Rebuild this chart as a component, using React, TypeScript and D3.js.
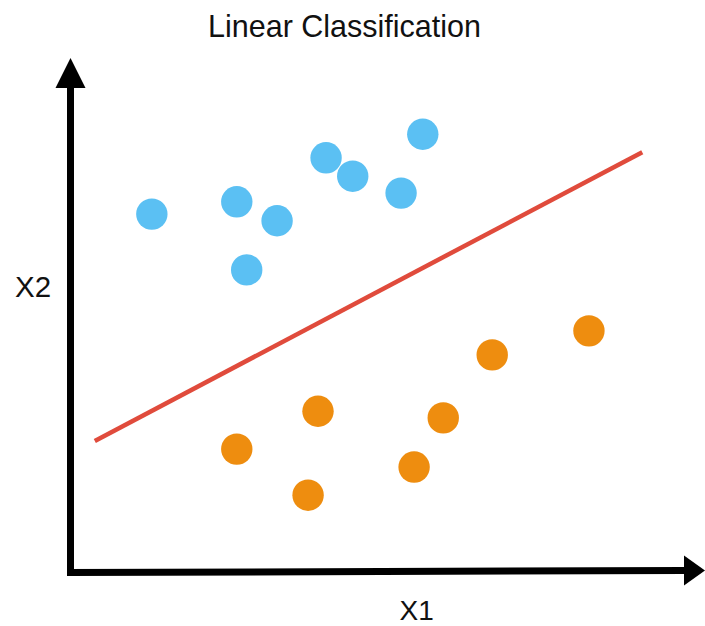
import React from "react";
import * as d3 from "d3";

const W = 705;
const H = 626;

const title = "Linear Classification";
const xLabel = "X1";
const yLabel = "X2";

const classAX = [1.32, 2.69, 3.34, 2.85, 4.13, 4.56, 5.34, 5.69];
const classAY = [6.99, 7.23, 6.86, 5.9, 8.09, 7.73, 7.4, 8.55];
const classBX = [2.69, 4.0, 3.84, 5.55, 6.02, 6.81, 8.37];
const classBY = [2.4, 3.14, 1.5, 2.05, 3.01, 4.24, 4.71];
const boundaryX = [0.4, 9.23];
const boundaryY = [2.56, 8.2];

const FONT = "'Liberation Sans', Arial, Helvetica, sans-serif";

export default function App() {
  const x = d3.scaleLinear().domain([0, 10]).range([70, 690]);
  const y = d3.scaleLinear().domain([0, 10]).range([572, 60]);

  const line = d3
    .line<number>()
    .x((d) => x(boundaryX[d]))
    .y((d) => y(boundaryY[d]));

  const ax0 = x(0) + 0.5;
  const ay0 = y(0) + 0.5;

  return (
    <svg
      width={W}
      height={H}
      style={{ position: "absolute", left: 0, top: 0, display: "block", background: "#fff" }}
    >
      <text x={344.5} y={37} textAnchor="middle" fontFamily={FONT} fontSize={30.5} fill="#111">
        {title}
      </text>
      <text x={15} y={297} fontFamily={FONT} fontSize={29.5} fill="#111">
        {yLabel}
      </text>
      <text x={399.5} y={619.5} fontFamily={FONT} fontSize={28} fill="#111">
        {xLabel}
      </text>

      {/* axes */}
      <line x1={ax0} y1={ay0 + 3.5} x2={ax0} y2={88} stroke="#000" strokeWidth={7} />
      <path d={`M${ax0 - 15},88 L${ax0},58 L${ax0 + 15},88 Z`} fill="#000" />
      <line x1={ax0 - 3.5} y1={ay0} x2={684} y2={ay0 - 2} stroke="#000" strokeWidth={7} />
      <path d={`M684,${ay0 - 17} L705,${ay0 - 2} L684,${ay0 + 13} Z`} fill="#000" />

      <path d={line([0, 1]) || ""} stroke="#E04B3C" strokeWidth={4.5} fill="none" />

      {classAX.map((v, i) => (
        <circle key={"a" + i} cx={x(v)} cy={y(classAY[i])} r={15.7} fill="#5BC0F3" />
      ))}
      {classBX.map((v, i) => (
        <circle key={"b" + i} cx={x(v)} cy={y(classBY[i])} r={15.7} fill="#EE8D0F" />
      ))}
    </svg>
  );
}
